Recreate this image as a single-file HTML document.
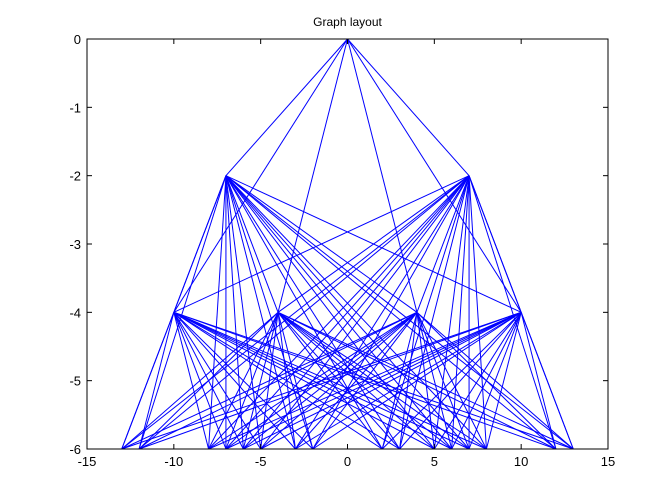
<!DOCTYPE html>
<html><head><meta charset="utf-8"><style>
html,body{margin:0;padding:0;background:#fff;}
svg{display:block;font-family:"Liberation Sans",sans-serif;}
</style></head><body>
<svg id="chart" width="672" height="504" viewBox="0 0 672 504">
<rect x="0" y="0" width="672" height="504" fill="#fff"/>
<rect x="87" y="39" width="521" height="410" fill="#fff" stroke="none"/>
<g id="edges"></g>
<g id="axes"></g>
<text x="347.5" y="26" font-size="12" text-anchor="middle" fill="#000">Graph layout</text>
</svg>
<script>
const xTicks=[-15,-10,-5,0,5,10,15];
const yTicks=[0,-1,-2,-3,-4,-5,-6];
const rootNodes=[[0,0]];
const level2Nodes=[[-7,-2],[7,-2]];
const level4Nodes=[[-10,-4],[-4,-4],[4,-4],[10,-4]];
const level6X=[-13,-12,-8,-7,-6,-5,-3,-2,2,3,5,6,7,8,12,13];
const level6Y=-6;

const L=87,R=608,T=39,B=449;
function sx(v){return L+(v+15)/30*(R-L);}
function sy(v){return T+(0-v)/6*(B-T);}
const NS='http://www.w3.org/2000/svg';
const eg=document.getElementById('edges');
const ag=document.getElementById('axes');
const bottom=level6X.map(x=>[x,level6Y]);
function edge(a,b,name){
  const l=document.createElementNS(NS,'line');
  l.setAttribute('x1',sx(a[0]));l.setAttribute('y1',sy(a[1]));
  l.setAttribute('x2',sx(b[0]));l.setAttribute('y2',sy(b[1]));
  l.setAttribute('stroke','#0000ff');l.setAttribute('stroke-width','1');
  
  
  eg.appendChild(l);
}
rootNodes.forEach(r=>{level2Nodes.concat(level4Nodes).forEach(n=>edge(r,n,'edge-root'));});
level2Nodes.forEach(a=>{level4Nodes.forEach(b=>edge(a,b,'edge-l2-l4'));bottom.forEach(b=>edge(a,b,'edge-l2-l6'));});
level4Nodes.forEach(a=>{bottom.forEach(b=>edge(a,b,'edge-l4-l6'));});

function mk(tag,attrs){const e=document.createElementNS(NS,tag);for(const k in attrs)e.setAttribute(k,attrs[k]);return e;}
const box=mk('rect',{x:L,y:T,width:R-L,height:B-T,fill:'none',stroke:'#000','stroke-width':1});


ag.appendChild(box);
xTicks.forEach(v=>{
  const x=sx(v);
  const t1=mk('line',{x1:x,y1:B,x2:x,y2:B-5,stroke:'#000'});
  
  
  ag.appendChild(t1);
  const t2=mk('line',{x1:x,y1:T,x2:x,y2:T+5,stroke:'#000'});
  
  
  ag.appendChild(t2);
  const tx=mk('text',{x:x,y:B+17,'font-size':13,'text-anchor':'middle',fill:'#000'});
  tx.textContent=v;
  
  
  ag.appendChild(tx);
});
yTicks.forEach(v=>{
  const y=sy(v);
  const t1=mk('line',{x1:L,y1:y,x2:L+5,y2:y,stroke:'#000'});
  
  
  ag.appendChild(t1);
  const t2=mk('line',{x1:R,y1:y,x2:R-5,y2:y,stroke:'#000'});
  
  
  ag.appendChild(t2);
  const tx=mk('text',{x:L-6,y:y+5,'font-size':13,'text-anchor':'end',fill:'#000'});
  tx.textContent=v;
  
  
  ag.appendChild(tx);
});
</script>
</body></html>
